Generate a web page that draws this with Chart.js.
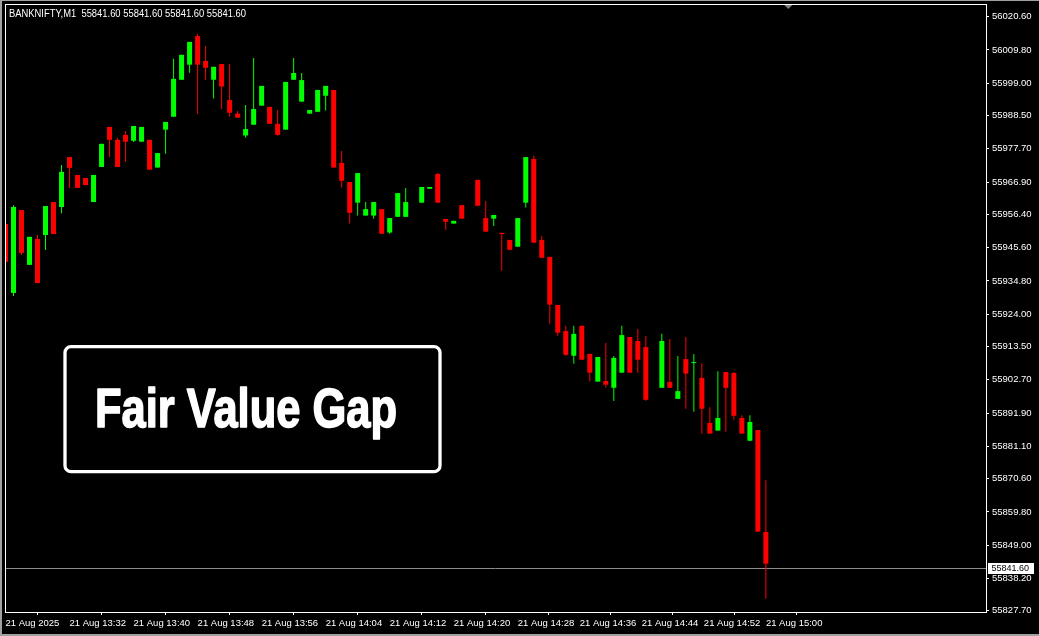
<!DOCTYPE html>
<html>
<head>
<meta charset="utf-8">
<script src="https://cdn.jsdelivr.net/npm/chart.js@4.4.1/dist/chart.umd.min.js"></script>
<style>
  html, body { margin:0; padding:0; background:#000; }
  #wrap { width:1039px; height:636px; }
</style>
</head>
<body>
<div id="wrap"><canvas id="bougies" width="1039" height="636"></canvas></div>
<script>
// BANKNIFTY M1, 21 Aug 2025 - one entry per bar, null = no bar drawn
const times = ['13:24','13:25','13:26','13:27','13:28','13:29','13:30','13:31','13:32','13:33',
  '13:34','13:35','13:36','13:37','13:38','13:39','13:40','13:41','13:42','13:43',
  '13:44','13:45','13:46','13:47','13:48','13:49','13:50','13:51','13:52','13:53',
  '13:54','13:55','13:56','13:57','13:58','13:59','14:00','14:01','14:02','14:03',
  '14:04','14:05','14:06','14:07','14:08','14:09','14:10','14:11','14:12','14:13',
  '14:14','14:15','14:16','14:17','14:18','14:19','14:20','14:21','14:22','14:23',
  '14:24','14:25','14:26','14:27','14:28','14:29','14:30','14:31','14:32','14:33',
  '14:34','14:35','14:36','14:37','14:38','14:39','14:40','14:41','14:42','14:43',
  '14:44','14:45','14:46','14:47','14:48','14:49','14:50','14:51','14:52','14:53',
  '14:54','14:55','14:56','14:57','14:58','14:59'];

const opens = [55953.3,55930.9,55957.8,55940.0,55948.4,55949.7,55960.4,55958.8,55975.0,55969.2,
  55968.2,55960.4,55971.8,55984.8,55980.6,55982.2,55980.3,55980.0,55980.6,55971.6,
  55983.9,55988.1,56000.1,56005.0,56014.3,56006.2,56000.1,56005.2,55993.5,55989.1,
  55982.0,55985.5,55991.7,55991.3,55985.8,55983.9,56000.1,55993.0,55989.1,55989.7,
  55994.9,55996.8,55973.1,55966.9,55960.2,55956.0,55956.0,55958.1,55950.5,55955.6,
  55955.6,null,55960.2,55964.7,55969.5,55954.9,55953.4,55959.4,null,55967.6,
  55955.2,55955.0,55950.4,55948.1,55945.9,55960.2,55974.4,55948.1,55942.6,55927.0,
  55918.5,55910.5,55920.2,55911.1,55902.1,55902.3,55900.1,55905.0,55916.6,55915.3,
  55913.3,null,55900.1,55902.0,55896.5,55909.4,55908.1,55903.3,55888.7,55886.2,
  55905.2,55904.9,55890.3,55882.9,55886.4,55853.3];

const highs = [55964.0,55959.4,55957.8,55949.1,55949.7,55959.1,55960.4,55972.4,55975.0,55969.2,
  55968.2,55969.2,55979.3,55984.8,55981.2,55983.5,55985.1,55984.8,55980.6,55976.3,
  55986.4,56006.9,56008.2,56012.4,56015.0,56011.1,56004.3,56005.2,56005.2,55990.0,
  55991.9,56007.2,55998.1,55991.3,55990.3,55999.4,56007.2,56002.3,55990.3,55996.8,
  55998.1,55996.8,55977.0,55966.9,55969.8,55960.4,55960.4,55958.1,55955.2,55963.3,
  55965.0,null,55965.3,55965.3,55969.8,55954.9,55954.3,55959.4,null,55967.6,
  55960.7,55956.2,55950.4,55948.1,55955.2,55975.0,55975.4,55949.4,55942.6,55927.0,
  55920.2,55920.2,55920.2,55911.1,55910.1,55914.6,55910.4,55920.2,55916.6,55919.2,
  55916.9,null,55917.6,55915.9,55910.4,55916.6,55911.1,55908.1,55893.8,55905.5,
  55905.2,55905.2,55891.2,55891.2,55886.4,55870.1];

const lows = [55939.6,55929.9,55943.2,55940.0,55934.1,55944.8,55950.0,55956.8,55965.0,55965.0,
  55965.9,55960.4,55971.8,55975.0,55971.8,55973.5,55979.9,55980.0,55970.9,55971.6,
  55976.1,55988.1,56000.1,56002.4,55989.1,56000.1,55994.0,55990.6,55988.1,55987.8,
  55981.3,55985.5,55991.7,55985.8,55981.9,55983.9,56000.1,55993.0,55989.1,55989.7,
  55990.1,55971.6,55965.1,55953.4,55956.0,55956.0,55955.0,55950.1,55950.1,55955.6,
  55955.6,null,55960.2,55964.7,55960.2,55951.4,55953.4,55955.0,null,55959.2,
  55950.8,55952.6,55938.1,55944.9,55945.9,55958.6,55947.2,55942.3,55920.9,55917.0,
  55910.5,55907.9,55909.2,55902.1,55902.1,55900.1,55895.8,55905.0,55905.0,55905.0,
  55895.9,null,55900.1,55900.1,55896.5,55893.3,55892.3,55885.2,55885.2,55886.2,
  55885.8,55889.7,55885.2,55882.9,55853.4,55831.6];

const closes = [55941.0,55958.8,55943.9,55949.1,55934.1,55959.1,55950.0,55970.2,55971.5,55965.0,
  55965.9,55969.2,55979.3,55980.6,55971.8,55980.0,55985.1,55984.8,55970.9,55976.3,
  55986.4,56000.4,56008.2,56012.4,56005.0,56004.0,56004.3,55997.9,55989.4,55987.8,
  55984.1,55990.6,55998.1,55985.8,55982.2,55999.4,56002.3,56000.0,55990.3,55996.8,
  55998.1,55971.6,55967.3,55956.9,55969.8,55958.1,55960.4,55950.1,55955.2,55963.3,
  55960.4,null,55965.3,55965.3,55960.2,55954.0,55954.3,55955.0,null,55959.2,
  55950.8,55956.2,55950.0,55944.9,55955.2,55975.0,55947.2,55942.3,55927.1,55918.0,
  55910.8,55917.6,55909.2,55905.0,55910.1,55901.1,55909.8,55917.2,55905.0,55909.2,
  55896.2,null,55915.3,55900.1,55899.0,55904.7,55908.1,55893.3,55885.2,55890.3,
  55900.1,55891.0,55885.2,55889.0,55853.4,55843.0];

const lastPrice = 55841.60;

// time axis labels and the bar index where each one sits
const tickText = ['21 Aug 2025','21 Aug 13:32','21 Aug 13:40','21 Aug 13:48','21 Aug 13:56',
  '21 Aug 14:04','21 Aug 14:12','21 Aug 14:20','21 Aug 14:28','21 Aug 14:36','21 Aug 14:44',
  '21 Aug 14:52','21 Aug 15:00'];
const tickAt = [0,8,16,24,32,40,48,56,64,71.75,79.5,87.25,95];

const yTicks = [56020.60,56009.80,55999.00,55988.50,55977.70,55966.90,55956.40,55945.60,55934.80,
  55924.00,55913.50,55902.70,55891.90,55881.10,55870.60,55859.80,55849.00,55838.20,55827.70];

window.addEventListener("load",() =>{
    let ctx = document.getElementById("bougies").getContext("2d");
    Chart.defaults.font.family = "'Liberation Sans', Arial, sans-serif";

    let wicks = [], bodies = [], colors = [];
    times.forEach((t,i) => {
        if (opens[i] === null) return;
        wicks.push({x:i, y:[lows[i], highs[i]]});
        bodies.push({x:i, y:[opens[i], closes[i]]});
        colors.push(closes[i] >= opens[i] ? '#00ff00' : '#ff0000');
    });

    const mt4 = {
        id:'mt4',
        beforeDraw(chart){
            let c = chart.ctx;
            c.save();
            c.fillStyle = '#000';
            c.fillRect(0,0,chart.width,chart.height);
            c.restore();
        },
        beforeDatasetsDraw(chart){
            let c = chart.ctx, a = chart.chartArea;
            let py = Math.round(chart.scales.y.getPixelForValue(lastPrice)) + 0.5;
            c.save();
            c.strokeStyle = '#8c8c8c';
            c.lineWidth = 1;
            c.beginPath();
            c.moveTo(a.left, py);
            c.lineTo(a.right, py);
            c.stroke();
            c.restore();
        },
        afterDraw(chart){
            let c = chart.ctx, a = chart.chartArea;
            c.save();
            // frame
            c.strokeStyle = '#fff';
            c.lineWidth = 1;
            c.strokeRect(a.left + 0.5, a.top + 0.5, a.right - a.left, a.bottom - a.top);

            // current price tag
            let py = Math.round(chart.scales.y.getPixelForValue(lastPrice)) + 0.5;
            c.fillStyle = '#fff';
            c.fillRect(a.right + 2, py - 5.5, 46, 11);
            c.fillStyle = '#000';
            c.font = "9px 'Liberation Sans', Arial, sans-serif";
            c.textBaseline = 'middle';
            c.fillText(lastPrice.toFixed(2), a.right + 5.5, py);

            // symbol header
            c.fillStyle = '#fff';
            c.font = "10px 'Liberation Sans', Arial, sans-serif";
            c.textBaseline = 'alphabetic';
            c.fillText('BANKNIFTY,M1  55841.60 55841.60 55841.60 55841.60', 9, 16.5, 237);

            // chart shift marker
            let sx = chart.scales.x.getPixelForValue(97.8);
            c.fillStyle = '#808080';
            c.beginPath();
            c.moveTo(sx - 4, a.top + 1);
            c.lineTo(sx + 4, a.top + 1);
            c.lineTo(sx, a.top + 5);
            c.closePath();
            c.fill();

            // Fair Value Gap label
            c.fillStyle = '#000';
            c.strokeStyle = '#fff';
            c.lineWidth = 3.3;
            c.beginPath();
            c.roundRect(65, 346.7, 375, 125, 6);
            c.fill();
            c.stroke();
            c.fillStyle = '#fff';
            c.strokeStyle = '#fff';
            c.lineWidth = 1.6;
            c.lineJoin = 'round';
            c.font = "bold 56px 'Liberation Sans', Arial, sans-serif";
            c.fillText('Fair Value Gap', 95, 426.5, 302);
            c.strokeText('Fair Value Gap', 95, 426.5, 302);

            // window edges
            c.fillStyle = '#a0a0a0';
            c.fillRect(0, 0, chart.width, 1);
            c.fillRect(0, 0, 2, chart.height);
            c.fillRect(0, chart.height - 2, chart.width, 2);
            c.restore();
        }
    };

    let graph = new Chart(ctx,{
        type:'bar',
        data:{
            datasets:[{
                label:'wick',
                data:wicks,
                backgroundColor:colors,
                barThickness:1,
                order:2
            },{
                label:'body',
                data:bodies,
                backgroundColor:colors,
                barThickness:5,
                minBarLength:1,
                order:1
            }]
        },
        options:{
            responsive:false,
            animation:false,
            layout:{ padding:{ left:5, top:4, right:0, bottom:0 } },
            datasets:{ bar:{ grouped:false, borderWidth:0, inflateAmount:0 } },
            plugins:{ legend:{ display:false }, tooltip:{ enabled:false } },
            scales:{
                x:{
                    type:'linear',
                    min:-0.0625,
                    max:122.5,
                    offset:false,
                    afterBuildTicks: s => { s.ticks = tickAt.map(v => ({value:v})); },
                    afterFit: s => { s.height = 24; s.paddingLeft = 0; s.paddingRight = 0; },
                    ticks:{
                        color:'#fff', autoSkip:false, maxRotation:0, minRotation:0,
                        align:'start', padding:3, font:{ size:9.5 },
                        callback:(v,i) => tickText[i]
                    },
                    grid:{ drawOnChartArea:false, drawTicks:true, tickLength:3, color:'#fff' },
                    border:{ color:'#fff' }
                },
                y:{
                    position:'right',
                    min:55827.3,
                    max:56024.7,
                    afterBuildTicks: s => { s.ticks = yTicks.map(v => ({value:v})); },
                    afterFit: s => { s.width = 53; s.paddingTop = 0; s.paddingBottom = 0; },
                    ticks:{ color:'#fff', padding:3, font:{ size:9.5 }, callback: v => v.toFixed(2) },
                    grid:{ drawOnChartArea:false, drawTicks:true, tickLength:3, color:'#fff' },
                    border:{ color:'#fff' }
                }
            }
        },
        plugins:[mt4]
    });
})
</script>
</body>
</html>
